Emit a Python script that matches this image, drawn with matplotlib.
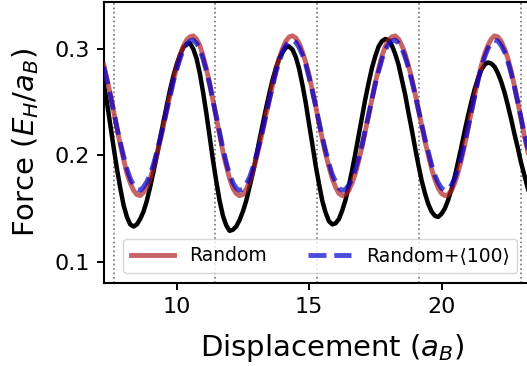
import numpy as np
import matplotlib
matplotlib.use("Agg")
import matplotlib.pyplot as plt

# Displacement grid (a_B); force values
displacement = np.arange(7.25, 23.51, 0.125)

# Black curve (no legend entry)
force_ref = [
    0.267, 0.249, 0.228, 0.207, 0.187, 0.169, 0.153, 0.142,
    0.135, 0.133, 0.135, 0.140, 0.147, 0.157, 0.170, 0.184,
    0.199, 0.215, 0.231, 0.246, 0.261, 0.274, 0.285, 0.294,
    0.301, 0.304, 0.305, 0.300, 0.291, 0.277, 0.259, 0.239,
    0.217, 0.195, 0.175, 0.157, 0.143, 0.134, 0.129, 0.130,
    0.133, 0.139, 0.147, 0.157, 0.170, 0.183, 0.198, 0.214,
    0.229, 0.244, 0.258, 0.271, 0.282, 0.291, 0.297, 0.301,
    0.302, 0.299, 0.292, 0.281, 0.266, 0.249, 0.229, 0.210,
    0.190, 0.173, 0.157, 0.146, 0.138, 0.135, 0.136, 0.140,
    0.148, 0.158, 0.171, 0.186, 0.202, 0.219, 0.236, 0.253,
    0.268, 0.282, 0.293, 0.302, 0.307, 0.309, 0.308, 0.303,
    0.295, 0.285, 0.271, 0.257, 0.240, 0.224, 0.207, 0.191,
    0.176, 0.164, 0.154, 0.147, 0.143, 0.142, 0.145, 0.150,
    0.158, 0.168, 0.180, 0.194, 0.208, 0.223, 0.237, 0.250,
    0.262, 0.272, 0.280, 0.285, 0.287, 0.286, 0.283, 0.277,
    0.269, 0.259, 0.247, 0.234, 0.220, 0.207, 0.193, 0.181,
    0.169, 0.160, 0.153,
]

# Random
force_random = [
    0.285, 0.271, 0.257, 0.241, 0.225, 0.210, 0.196, 0.183,
    0.174, 0.167, 0.163, 0.162, 0.165, 0.170, 0.178, 0.188,
    0.200, 0.213, 0.227, 0.242, 0.256, 0.270, 0.282, 0.293,
    0.302, 0.308, 0.311, 0.312, 0.309, 0.303, 0.293, 0.281,
    0.267, 0.251, 0.235, 0.219, 0.203, 0.190, 0.178, 0.169,
    0.164, 0.162, 0.163, 0.168, 0.175, 0.184, 0.196, 0.209,
    0.223, 0.238, 0.252, 0.266, 0.280, 0.291, 0.300, 0.307,
    0.311, 0.312, 0.310, 0.305, 0.297, 0.287, 0.275, 0.261,
    0.246, 0.230, 0.215, 0.201, 0.189, 0.178, 0.170, 0.164,
    0.162, 0.163, 0.167, 0.174, 0.183, 0.195, 0.208, 0.223,
    0.238, 0.253, 0.268, 0.281, 0.293, 0.302, 0.308, 0.311,
    0.312, 0.309, 0.303, 0.295, 0.284, 0.272, 0.258, 0.243,
    0.228, 0.213, 0.200, 0.187, 0.177, 0.169, 0.164, 0.162,
    0.163, 0.167, 0.174, 0.184, 0.196, 0.210, 0.225, 0.241,
    0.256, 0.271, 0.284, 0.295, 0.303, 0.309, 0.312, 0.311,
    0.307, 0.300, 0.291, 0.279, 0.265, 0.250, 0.234, 0.218,
    0.204, 0.190, 0.179,
]

# Random+<100>
force_random_100 = [
    0.283, 0.270, 0.256, 0.241, 0.226, 0.212, 0.199, 0.187,
    0.178, 0.172, 0.168, 0.167, 0.170, 0.175, 0.182, 0.191,
    0.203, 0.215, 0.228, 0.242, 0.255, 0.269, 0.280, 0.290,
    0.299, 0.304, 0.307, 0.308, 0.305, 0.300, 0.290, 0.279,
    0.266, 0.251, 0.236, 0.221, 0.206, 0.193, 0.182, 0.174,
    0.169, 0.167, 0.168, 0.173, 0.179, 0.188, 0.199, 0.211,
    0.224, 0.238, 0.252, 0.265, 0.278, 0.288, 0.297, 0.303,
    0.307, 0.308, 0.306, 0.301, 0.294, 0.285, 0.273, 0.260,
    0.246, 0.231, 0.217, 0.204, 0.192, 0.182, 0.175, 0.169,
    0.167, 0.168, 0.172, 0.178, 0.187, 0.198, 0.210, 0.224,
    0.238, 0.253, 0.267, 0.279, 0.290, 0.299, 0.304, 0.307,
    0.308, 0.305, 0.300, 0.292, 0.282, 0.270, 0.257, 0.243,
    0.229, 0.215, 0.203, 0.191, 0.181, 0.174, 0.169, 0.167,
    0.168, 0.172, 0.178, 0.188, 0.199, 0.212, 0.226, 0.241,
    0.255, 0.270, 0.282, 0.292, 0.300, 0.305, 0.308, 0.307,
    0.303, 0.297, 0.288, 0.277, 0.264, 0.250, 0.235, 0.220,
    0.207, 0.193, 0.183,
]

# Lattice positions marked by dotted lines
lattice_x = [7.63, 11.45, 15.31, 19.14, 22.98]

fig = plt.figure(figsize=(5.27, 3.66), dpi=100)
# axes runs past the right edge of the figure, as in the reference crop
ax = fig.add_axes([104 / 527, 0.2276, 456 / 527, 0.768])

for xv in lattice_x:
    ax.axvline(xv, color="0.45", linestyle=":", linewidth=1.2, zorder=1)

ax.plot(displacement, force_ref, color="black", linewidth=3.2, zorder=2)
ax.plot(displacement, force_random, color="firebrick", alpha=0.7,
        linewidth=3.5, label="Random", zorder=3)
ax.plot(displacement, force_random_100, color="mediumblue", alpha=0.7,
        linewidth=3.5, linestyle="--", label="Random+\u27e8100\u27e9", zorder=4)

ax.set_xlim(7.26, 24.47)
ax.set_ylim(0.0803, 0.3441)
ax.set_xticks([10, 15, 20])
ax.set_yticks([0.1, 0.2, 0.3])
ax.tick_params(labelsize=16, width=1.4, length=5, pad=5)
for sp in ax.spines.values():
    sp.set_linewidth(1.5)

ax.set_xlabel("Displacement ($a_B$)", fontsize=21, labelpad=11)
ax.set_ylabel("Force ($E_H/a_B$)", fontsize=21, labelpad=10)

ax.legend(loc="lower left", bbox_to_anchor=(0.042, 0.035), borderaxespad=0,
          ncol=2, fontsize=13.5, handlelength=2.3, columnspacing=2.2)

fig.savefig("out.png", dpi=100)
